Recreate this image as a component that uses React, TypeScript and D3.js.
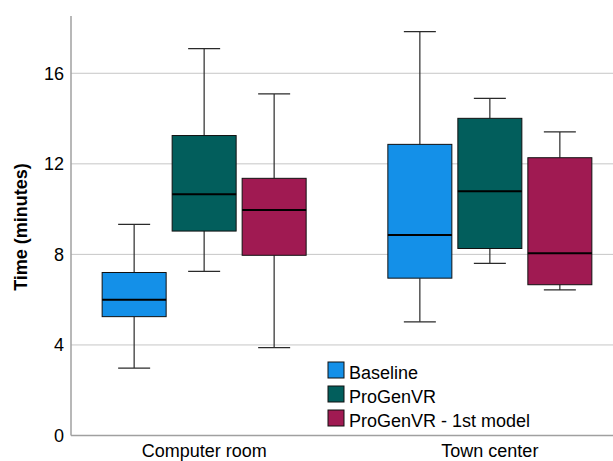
import React from 'react';
import * as d3 from 'd3';

const categories = ['Computer room', 'Town center'];
const seriesNames = ['Baseline', 'ProGenVR', 'ProGenVR - 1st model'];
const seriesColors = ['#1490e8', '#025e5c', '#a01a52'];

// [computer room, town center] for each stat
const baselineStats = [
  { min: 2.98, q1: 5.25, median: 6.0, q3: 7.2, max: 9.33 },
  { min: 5.02, q1: 6.95, median: 8.86, q3: 12.86, max: 17.84 },
];
const progenStats = [
  { min: 7.25, q1: 9.03, median: 10.66, q3: 13.25, max: 17.09 },
  { min: 7.6, q1: 8.26, median: 10.79, q3: 14.01, max: 14.89 },
];
const firstModelStats = [
  { min: 3.88, q1: 7.96, median: 9.96, q3: 11.36, max: 15.09 },
  { min: 6.43, q1: 6.66, median: 8.05, q3: 12.27, max: 13.41 },
];
const yTicks = [0, 4, 8, 12, 16];

const allStats = [baselineStats, progenStats, firstModelStats];

const width = 613;
const height = 461;
const font = '"Liberation Sans", Arial, sans-serif';

export default function App() {
  const y = d3.scaleLinear().domain([0, 18.53]).range([435.5, 16]);
  const x0 = d3.scalePoint<string>().domain(categories).range([71, 623]).padding(0.466);
  const x1 = d3.scaleBand<string>().domain(seriesNames).range([-102, 102]).paddingInner(0.0857);
  const bw = x1.bandwidth();

  return (
    <svg width={width} height={height} style={{ position: 'absolute', left: 0, top: 0, fontFamily: font }}>
      {yTicks.filter(t => t > 0).map(t => (
        <line key={t} x1={71} x2={width} y1={y(t)} y2={y(t)} stroke="#c6c6c6" strokeWidth={1} />
      ))}
      {yTicks.map(t => (
        <text key={t} x={64} y={y(t)} dy="0.35em" textAnchor="end" fontSize={18} fill="#000">{t}</text>
      ))}
      <text transform="translate(27,227) rotate(-90)" textAnchor="middle" fontSize={18} fontWeight="bold">Time (minutes)</text>

      {categories.map((cat, ci) => (
        <g key={cat} transform={`translate(${x0(cat)},0)`}>
          {seriesNames.map((s, si) => {
            const st = allStats[si][ci];
            const cx = (x1(s) as number) + bw / 2;
            const left = x1(s) as number;
            return (
              <g key={s}>
                <line x1={cx} x2={cx} y1={y(st.max)} y2={y(st.q3)} stroke="#2a2a2a" strokeWidth={1.2} />
                <line x1={cx} x2={cx} y1={y(st.q1)} y2={y(st.min)} stroke="#2a2a2a" strokeWidth={1.2} />
                <line x1={cx - bw / 4} x2={cx + bw / 4} y1={y(st.max)} y2={y(st.max)} stroke="#2a2a2a" strokeWidth={1.2} />
                <line x1={cx - bw / 4} x2={cx + bw / 4} y1={y(st.min)} y2={y(st.min)} stroke="#2a2a2a" strokeWidth={1.2} />
                <rect x={left} y={y(st.q3)} width={bw} height={y(st.q1) - y(st.q3)} fill={seriesColors[si]} stroke="#111" strokeWidth={1} />
                <line x1={left} x2={left + bw} y1={y(st.median)} y2={y(st.median)} stroke="#000" strokeWidth={2} />
              </g>
            );
          })}
          <text x={0} y={457} textAnchor="middle" fontSize={18}>{cat}</text>
        </g>
      ))}

      <line x1={71} x2={71} y1={16} y2={y(0)} stroke="#a0a0a0" strokeWidth={1.5} />
      <line x1={71} x2={width} y1={y(0)} y2={y(0)} stroke="#a0a0a0" strokeWidth={1.5} />

      {seriesNames.map((s, i) => (
        <g key={s} transform={`translate(328,${362 + i * 24})`}>
          <rect x={0} y={0} width={16} height={16} fill={seriesColors[i]} stroke="#111" strokeWidth={1} />
          <text x={21} y={16.5} fontSize={18}>{s}</text>
        </g>
      ))}
    </svg>
  );
}
